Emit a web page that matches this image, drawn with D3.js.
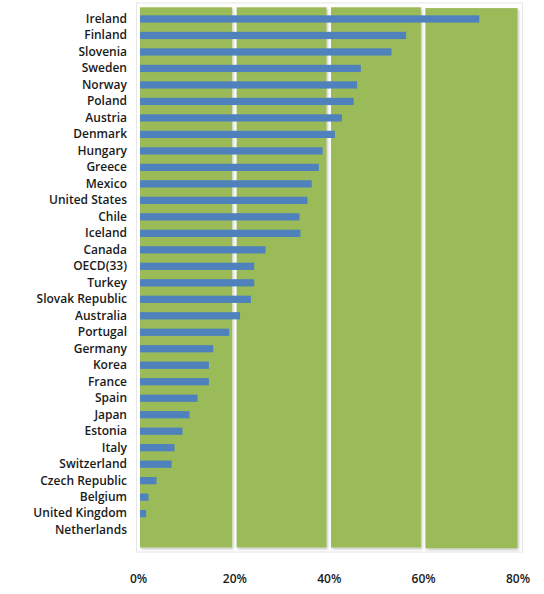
<!DOCTYPE html>
<html>
<head>
<meta charset="utf-8">
<script src="https://cdn.jsdelivr.net/npm/d3@7"></script>
<style>
  html, body { margin: 0; padding: 0; background: #ffffff; }
  svg { display: block; }
  text { font-family: "Open Sans", "Noto Sans", sans-serif; font-weight: 600; fill: #1a1a1a; }
</style>
</head>
<body>
<svg id="chart" width="544" height="594"></svg>
<script>
const countries = ["Ireland","Finland","Slovenia","Sweden","Norway","Poland","Austria","Denmark","Hungary","Greece","Mexico","United States","Chile","Iceland","Canada","OECD(33)","Turkey","Slovak Republic","Australia","Portugal","Germany","Korea","France","Spain","Japan","Estonia","Italy","Switzerland","Czech Republic","Belgium","United Kingdom","Netherlands"];
const values = [71.9,56.4,53.3,46.8,46.0,45.3,42.8,41.3,38.7,37.9,36.4,35.5,33.8,34.0,26.6,24.2,24.2,23.5,21.2,18.9,15.5,14.6,14.6,12.2,10.5,9.0,7.3,6.7,3.5,1.8,1.3,0];
const tickValues = [0,20,40,60,80];
const tickLabels = ["0%","20%","40%","60%","80%"];

const svg = d3.select("#chart");
const defs = svg.append("defs");
const f = defs.append("filter").attr("id","shadow").attr("x","-5%").attr("y","-5%").attr("width","110%").attr("height","110%");
f.append("feDropShadow").attr("dx",1.2).attr("dy",1.5).attr("stdDeviation",0.8).attr("flood-color","#000").attr("flood-opacity",0.25);

const x = d3.scaleLinear().domain([0,80]).range([140,517.5]);
const y = d3.scaleBand().domain(countries).range([6.1,543]).padding(0.56);
const plotTop = 7.3, plotBottom = 547.5, gap = 4.5;

// outer faint frame
svg.append("rect").attr("x",136.5).attr("y",3).attr("width",386).attr("height",549)
  .attr("fill","#fff").attr("stroke","#e6e6e6").attr("stroke-width",1);

// green blocks between gridlines
const blocks = d3.pairs(tickValues);
const bx0 = (d,i) => i === 0 ? x(d[0]) : x(d[0]) + gap/2;
const bx1 = (d,i) => i === blocks.length-1 ? x(d[1]) : x(d[1]) - gap/2;
svg.append("g").selectAll("rect").data(blocks).join("rect")
  .attr("x", bx0)
  .attr("width", (d,i) => bx1(d,i) - bx0(d,i))
  .attr("y", (d,i) => i === blocks.length-1 ? plotTop + 0.8 : plotTop)
  .attr("height", plotBottom - plotTop)
  .attr("fill","#9bbb59")
  .attr("filter","url(#shadow)");

// bars
svg.append("g").selectAll("rect").data(countries).join("rect")
  .attr("x", x(0))
  .attr("y", d => y(d))
  .attr("width", (d,i) => x(values[i]) - x(0))
  .attr("height", y.bandwidth())
  .attr("fill","#4f81bd");

// category labels
const yAxis = d3.axisLeft(y).tickSize(0).tickPadding(0);
const gy = svg.append("g").attr("transform","translate(127,0)").call(yAxis);
gy.select(".domain").remove();
gy.selectAll("text").attr("font-size","12px").attr("fill","#1a1a1a")
  .style("font-family","'Open Sans', 'Noto Sans', sans-serif").style("font-weight","600");

// x axis labels
const xAxis = d3.axisBottom(x).tickValues(tickValues).tickFormat((d,i) => tickLabels[i]).tickSize(0).tickPadding(0);
const gx = svg.append("g").attr("transform","translate(0,574)").call(xAxis);
gx.select(".domain").remove();
gx.selectAll("text").attr("font-size","12px").attr("fill","#1a1a1a")
  .style("font-family","'Open Sans', 'Noto Sans', sans-serif").style("font-weight","600");
gx.selectAll(".tick").filter(d => d === 0).select("text").attr("dx", -2);
</script>
</body>
</html>
